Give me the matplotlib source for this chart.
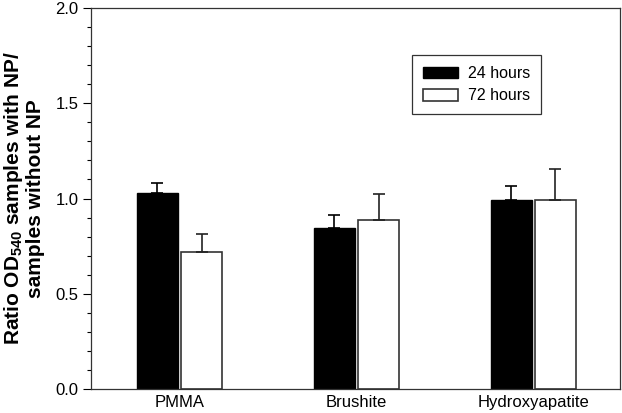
import matplotlib
matplotlib.use('Agg')
import matplotlib.pyplot as plt
import numpy as np

plt.rcParams['font.family'] = ['Liberation Sans', 'DejaVu Sans']
plt.rcParams['mathtext.fontset'] = 'custom'
plt.rcParams['mathtext.rm'] = 'Liberation Sans'
plt.rcParams['mathtext.bf'] = 'Liberation Sans:bold'

# data
categories = ['PMMA', 'Brushite', 'Hydroxyapatite']
mean_24h = [1.03, 0.845, 0.99]
err_24h = [0.052, 0.068, 0.075]
mean_72h = [0.72, 0.887, 0.992]
err_72h = [0.095, 0.137, 0.163]

x = np.arange(len(categories))
w = 0.23
off = 0.125

fig = plt.figure(figsize=(6.22, 4.13), dpi=100)
ax = fig.add_axes([0.1463, 0.0581, 0.8505, 0.9225])

ax.bar(x - off, mean_24h, w, color='black', edgecolor='black', linewidth=1,
       yerr=[np.zeros(3), err_24h], capsize=4.5,
       error_kw=dict(ecolor='black', elinewidth=1.2, capthick=1.2),
       label='24 hours', zorder=2)
ax.bar(x + off, mean_72h, w, color='white', edgecolor='#333333', linewidth=1.2,
       yerr=[np.zeros(3), err_72h], capsize=4.5,
       error_kw=dict(ecolor='#222222', elinewidth=1.2, capthick=1.2),
       label='72 hours', zorder=2)

ax.set_xlim(-0.5, 2.49)
ax.set_ylim(0, 2.0)
ax.set_xticks(x)
ax.set_xticklabels(categories, fontsize=12)
ax.tick_params(axis='x', length=0, pad=4)
ax.set_yticks([0, 0.5, 1.0, 1.5, 2.0])
ax.set_yticklabels(['0.0', '0.5', '1.0', '1.5', '2.0'], fontsize=12)
ax.set_yticks(np.arange(0, 2.01, 0.1), minor=True)
ax.tick_params(axis='y', which='major', length=6, width=0.8, direction='out', pad=3)
ax.tick_params(axis='y', which='minor', length=3, width=0.8, direction='out')
for s in ax.spines.values():
    s.set_linewidth(0.9)
    s.set_color('#333333')

ax.set_ylabel('Ratio OD$_{\\mathbf{540}}$ samples with NP/\nsamples without NP',
              fontsize=15, fontweight='bold', linespacing=1.05)
ax.yaxis.set_label_coords(-0.087, 0.5)

leg = ax.legend(loc='upper left', bbox_to_anchor=(0.607, 0.877), fontsize=11.5,
                frameon=True, fancybox=False, edgecolor='black',
                handlelength=2.2, handleheight=0.75, borderpad=0.7,
                labelspacing=0.45, handletextpad=0.6, borderaxespad=0)
leg.get_frame().set_linewidth(0.9)

fig.savefig('out.png', dpi=100)
